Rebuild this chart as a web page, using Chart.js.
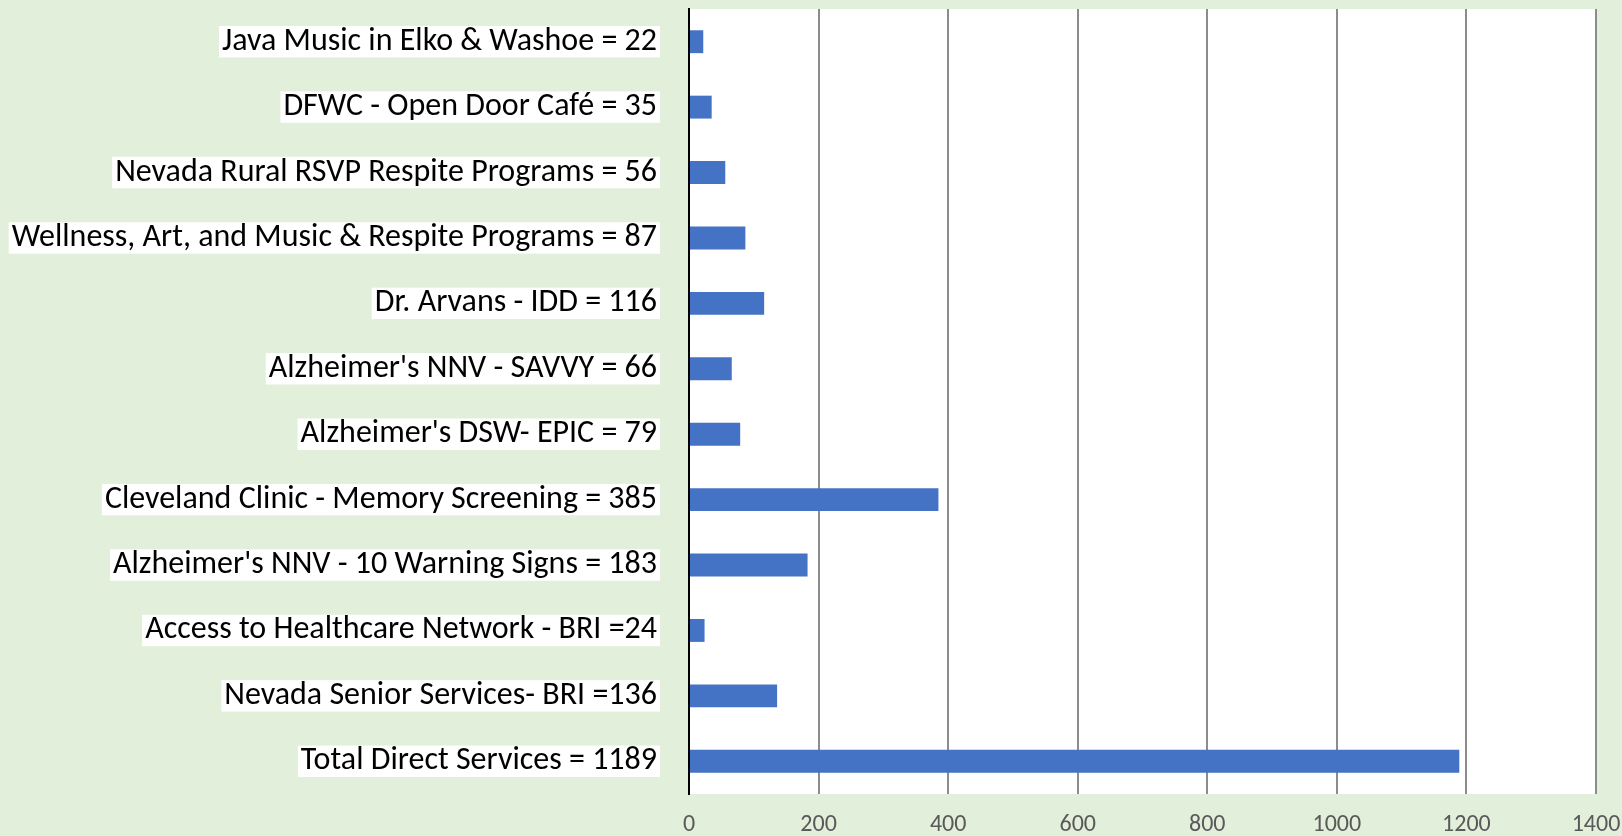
<!DOCTYPE html>
<html>
<head>
<meta charset="utf-8">
<script src="https://cdn.jsdelivr.net/npm/chart.js@4/dist/chart.umd.min.js"></script>
<style>
html,body{margin:0;padding:0;background:#E2EFDA;}
#wrap{width:1622px;height:836px;position:relative;}
</style>
</head>
<body>
<div id="wrap"><canvas id="chart" width="1622" height="836"></canvas></div>
<script>
const categories = [
  "Java Music in Elko & Washoe = 22",
  "DFWC - Open Door Café = 35",
  "Nevada Rural RSVP Respite Programs = 56",
  "Wellness, Art, and Music & Respite Programs = 87",
  "Dr. Arvans - IDD = 116",
  "Alzheimer's NNV - SAVVY = 66",
  "Alzheimer's DSW- EPIC = 79",
  "Cleveland Clinic - Memory Screening = 385",
  "Alzheimer's NNV - 10 Warning Signs = 183",
  "Access to Healthcare Network - BRI =24",
  "Nevada Senior Services- BRI =136",
  "Total Direct Services = 1189"
];
const values = [22, 35, 56, 87, 116, 66, 79, 385, 183, 24, 136, 1189];
const xMin = 0, xMax = 1400, xStep = 200;

const bgPlugin = {
  id: 'bg',
  beforeDraw(chart) {
    const {ctx, chartArea: a} = chart;
    ctx.save();
    ctx.fillStyle = '#E2EFDA';
    ctx.fillRect(0, 0, chart.width, chart.height);
    ctx.fillStyle = '#FFFFFF';
    ctx.fillRect(a.left, a.top, a.right - a.left, a.bottom - a.top);
    ctx.restore();
  }
};

new Chart(document.getElementById('chart'), {
  type: 'bar',
  data: {
    labels: categories,
    datasets: [{
      data: values,
      backgroundColor: '#4472C4',
      borderWidth: 0,
      barPercentage: 0.35,
      categoryPercentage: 1.0
    }]
  },
  plugins: [bgPlugin],
  options: {
    indexAxis: 'y',
    responsive: false,
    animation: false,
    devicePixelRatio: 1,
    layout: {padding: {top: 9, right: 26, bottom: 0, left: 0}},
    plugins: {legend: {display: false}, tooltip: {enabled: false}},
    scales: {
      x: {
        min: xMin, max: xMax,
        ticks: {
          stepSize: xStep,
          color: '#595959',
          font: {family: "Carlito, Lato, sans-serif", size: 24},
          padding: 17,
          maxRotation: 0,
          callback: v => String(v)
        },
        grid: {
          color: ctx => ctx.tick && ctx.tick.value === 0 ? '#000000' : '#8C8C8C',
          lineWidth: 2,
          drawTicks: false
        },
        border: {display: false},
        afterFit(scale) { scale.height = 42; scale.paddingLeft = 0; scale.paddingRight = 0; }
      },
      y: {
        ticks: {
          color: '#000000',
          font: {family: "Carlito, Lato, sans-serif", size: 32, lineHeight: 0.92},
          padding: 32,
          showLabelBackdrop: true,
          backdropColor: '#FFFFFF',
          backdropPadding: {left: 3, right: 3, top: 1, bottom: 1},
          autoSkip: false
        },
        grid: {display: false, drawTicks: false},
        border: {display: true, color: '#000000', width: 2},
        afterFit(scale) { scale.width = 689; scale.paddingTop = 0; scale.paddingBottom = 0; }
      }
    }
  }
});
</script>
</body>
</html>
